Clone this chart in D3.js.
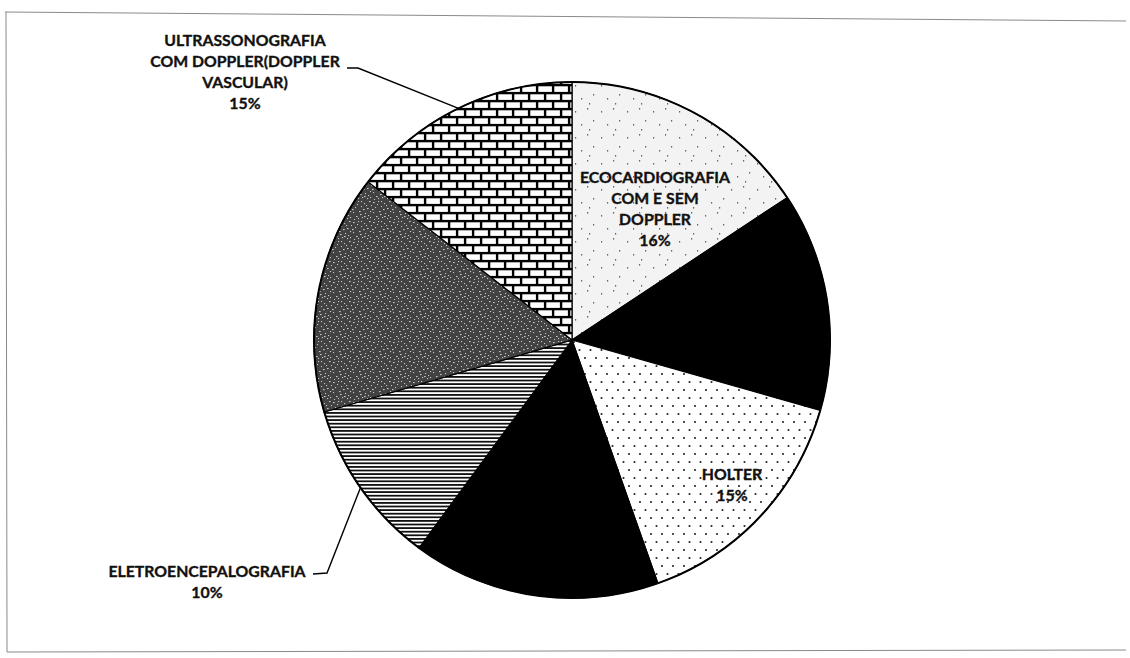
<!DOCTYPE html>
<html><head><meta charset="utf-8">
<script src="https://cdn.jsdelivr.net/npm/d3@7"></script>
<style>html,body{margin:0;padding:0;background:#fff;} svg{display:block;}</style>
</head><body><svg id="c" width="1130" height="658"></svg>
<script>
// ---- data ----
const categories = ["ECOCARDIOGRAFIA COM E SEM DOPPLER", "Categoria 2", "HOLTER", "Categoria 4", "ELETROENCEPALOGRAFIA", "Categoria 6", "ULTRASSONOGRAFIA COM DOPPLER(DOPPLER VASCULAR)"];
const values = [15.7, 13.7, 15.2, 15.5, 10.4, 15.0, 14.5];
const labelLines = [["ECOCARDIOGRAFIA", "COM E SEM", "DOPPLER"], null, ["HOLTER"], null, ["ELETROENCEPALOGRAFIA"], null, ["ULTRASSONOGRAFIA", "COM DOPPLER(DOPPLER", "VASCULAR)"]];

// ---- styles / layout ----
const sliceFills = ["url(#pEco)", "url(#gBlack)", "url(#pDots)", "url(#gBlack)", "url(#pLines)", "url(#pGray)", "url(#pBrick)"];
const cx = 572, cy = 340, R = 258;
const lineH = 21;
const labelLayout = {
  0: {x: 655, y: 183},
  2: {x: 732, y: 480},
  4: {x: 207, y: 577, leader: [[327, 573], [313, 574]]},
  6: {x: 245, y: 46, leader: [[358, 68], [347, 68]]}
};

const svg = d3.select("#c");
const defs = svg.append("defs");

// black radial gradient
const g = defs.append("radialGradient").attr("id", "gBlack").attr("gradientUnits", "userSpaceOnUse")
  .attr("cx", cx).attr("cy", cy).attr("r", R);
g.append("stop").attr("offset", "0%").attr("stop-color", "#222");
g.append("stop").attr("offset", "55%").attr("stop-color", "#0b0b0b");
g.append("stop").attr("offset", "100%").attr("stop-color", "#000");

// brick pattern
const pb = defs.append("pattern").attr("id", "pBrick").attr("patternUnits", "userSpaceOnUse")
  .attr("x", cx).attr("y", 0).attr("width", 16).attr("height", 16);
pb.append("rect").attr("width", 16).attr("height", 16).attr("fill", "#000");
[[2.3, 2.3], [-5.7, 10.3], [10.3, 10.3]].forEach(([x, y]) =>
  pb.append("rect").attr("x", x).attr("y", y).attr("width", 13.6).attr("height", 5.6).attr("fill", "#fff"));

// horizontal lines
const pl = defs.append("pattern").attr("id", "pLines").attr("patternUnits", "userSpaceOnUse")
  .attr("width", 8).attr("height", 3.6);
pl.append("rect").attr("width", 8).attr("height", 3.6).attr("fill", "#fff");
pl.append("rect").attr("width", 8).attr("height", 1.8).attr("fill", "#111");

// dots
const pd = defs.append("pattern").attr("id", "pDots").attr("patternUnits", "userSpaceOnUse")
  .attr("width", 11).attr("height", 16);
pd.append("rect").attr("width", 11).attr("height", 16).attr("fill", "#fff");
[[2, 2], [7.5, 10]].forEach(([x, y]) => pd.append("circle").attr("cx", x).attr("cy", y).attr("r", 1.05).attr("fill", "#222"));

// gray speckle
const pg = defs.append("pattern").attr("id", "pGray").attr("patternUnits", "userSpaceOnUse")
  .attr("width", 20).attr("height", 20);
pg.append("rect").attr("width", 20).attr("height", 20).attr("fill", "#424242");
[[1,2],[6,1],[12,3],[17,1],[3,7],[9,6],[15,8],[19,5],[1,12],[7,11],[13,13],[18,11],[4,16],[10,17],[15,18],[8,14],[16,15],[2,19],[11,9],[5,4],[14,5],[0,9],[6,18],[18,17],[12,16],[9,1]].forEach(([x, y], i) =>
  pg.append("rect").attr("x", x).attr("y", y).attr("width", i % 3 === 0 ? 1.6 : 1.1).attr("height", 1.1).attr("fill", "#c8c8c8"));

// eco light speckle
const pe = defs.append("pattern").attr("id", "pEco").attr("patternUnits", "userSpaceOnUse")
  .attr("width", 26).attr("height", 26);
pe.append("rect").attr("width", 26).attr("height", 26).attr("fill", "#f3f3f3");
[[3, 5], [15, 2], [21, 14], [9, 18], [17, 23]].forEach(([x, y]) =>
  pe.append("rect").attr("x", x).attr("y", y).attr("width", 1.2).attr("height", 1.6).attr("fill", "#666"));

// ---- frame ----
const frame = svg.append("g").attr("stroke", "#8a8a8a").attr("fill", "none").attr("stroke-width", 1);
frame.append("line").attr("x1", 5).attr("y1", 12).attr("x2", 1126).attr("y2", 21);
frame.append("line").attr("x1", 6).attr("y1", 12).attr("x2", 7).attr("y2", 652);
frame.append("line").attr("x1", 7).attr("y1", 652).attr("x2", 1126).attr("y2", 650);

// ---- pie ----
const pie = d3.pie().sort(null).value(d => d)(values);
const arc = d3.arc().innerRadius(0).outerRadius(R);
const edgeArc = d3.arc().innerRadius(R).outerRadius(R);
const gp = svg.append("g").attr("transform", `translate(${cx},${cy})`);
gp.selectAll("path.slice").data(pie).join("path").attr("class", "slice")
  .attr("d", arc).attr("fill", (d, i) => sliceFills[i])
  .attr("stroke", "#000").attr("stroke-width", 1.2).attr("stroke-linejoin", "round");
gp.append("circle").attr("r", R).attr("fill", "none").attr("stroke", "#000").attr("stroke-width", 2);

// ---- labels ----
const fontCss = "Lato, 'Open Sans', sans-serif";
pie.forEach((d, i) => {
  const lay = labelLayout[i];
  if (!lay || !labelLines[i]) return;
  const lines = labelLines[i].concat([Math.round(values[i]) + "%"]);
  const t = svg.append("text").attr("x", lay.x).attr("y", lay.y).attr("text-anchor", "middle")
    .attr("font-family", fontCss).attr("font-weight", "bold").attr("font-size", 15.8)
    .attr("fill", "#111").attr("stroke", "#111").attr("stroke-width", 0.35);
  lines.forEach((l, k) => t.append("tspan").attr("x", lay.x).attr("dy", k === 0 ? 0 : lineH).text(l));
  if (lay.leader) {
    const [ex, ey] = edgeArc.centroid(d);
    const pts = [[cx + ex, cy + ey]].concat(lay.leader);
    svg.append("path").attr("d", d3.line()(pts)).attr("fill", "none").attr("stroke", "#000").attr("stroke-width", 1.4);
  }
});
</script></body></html>
